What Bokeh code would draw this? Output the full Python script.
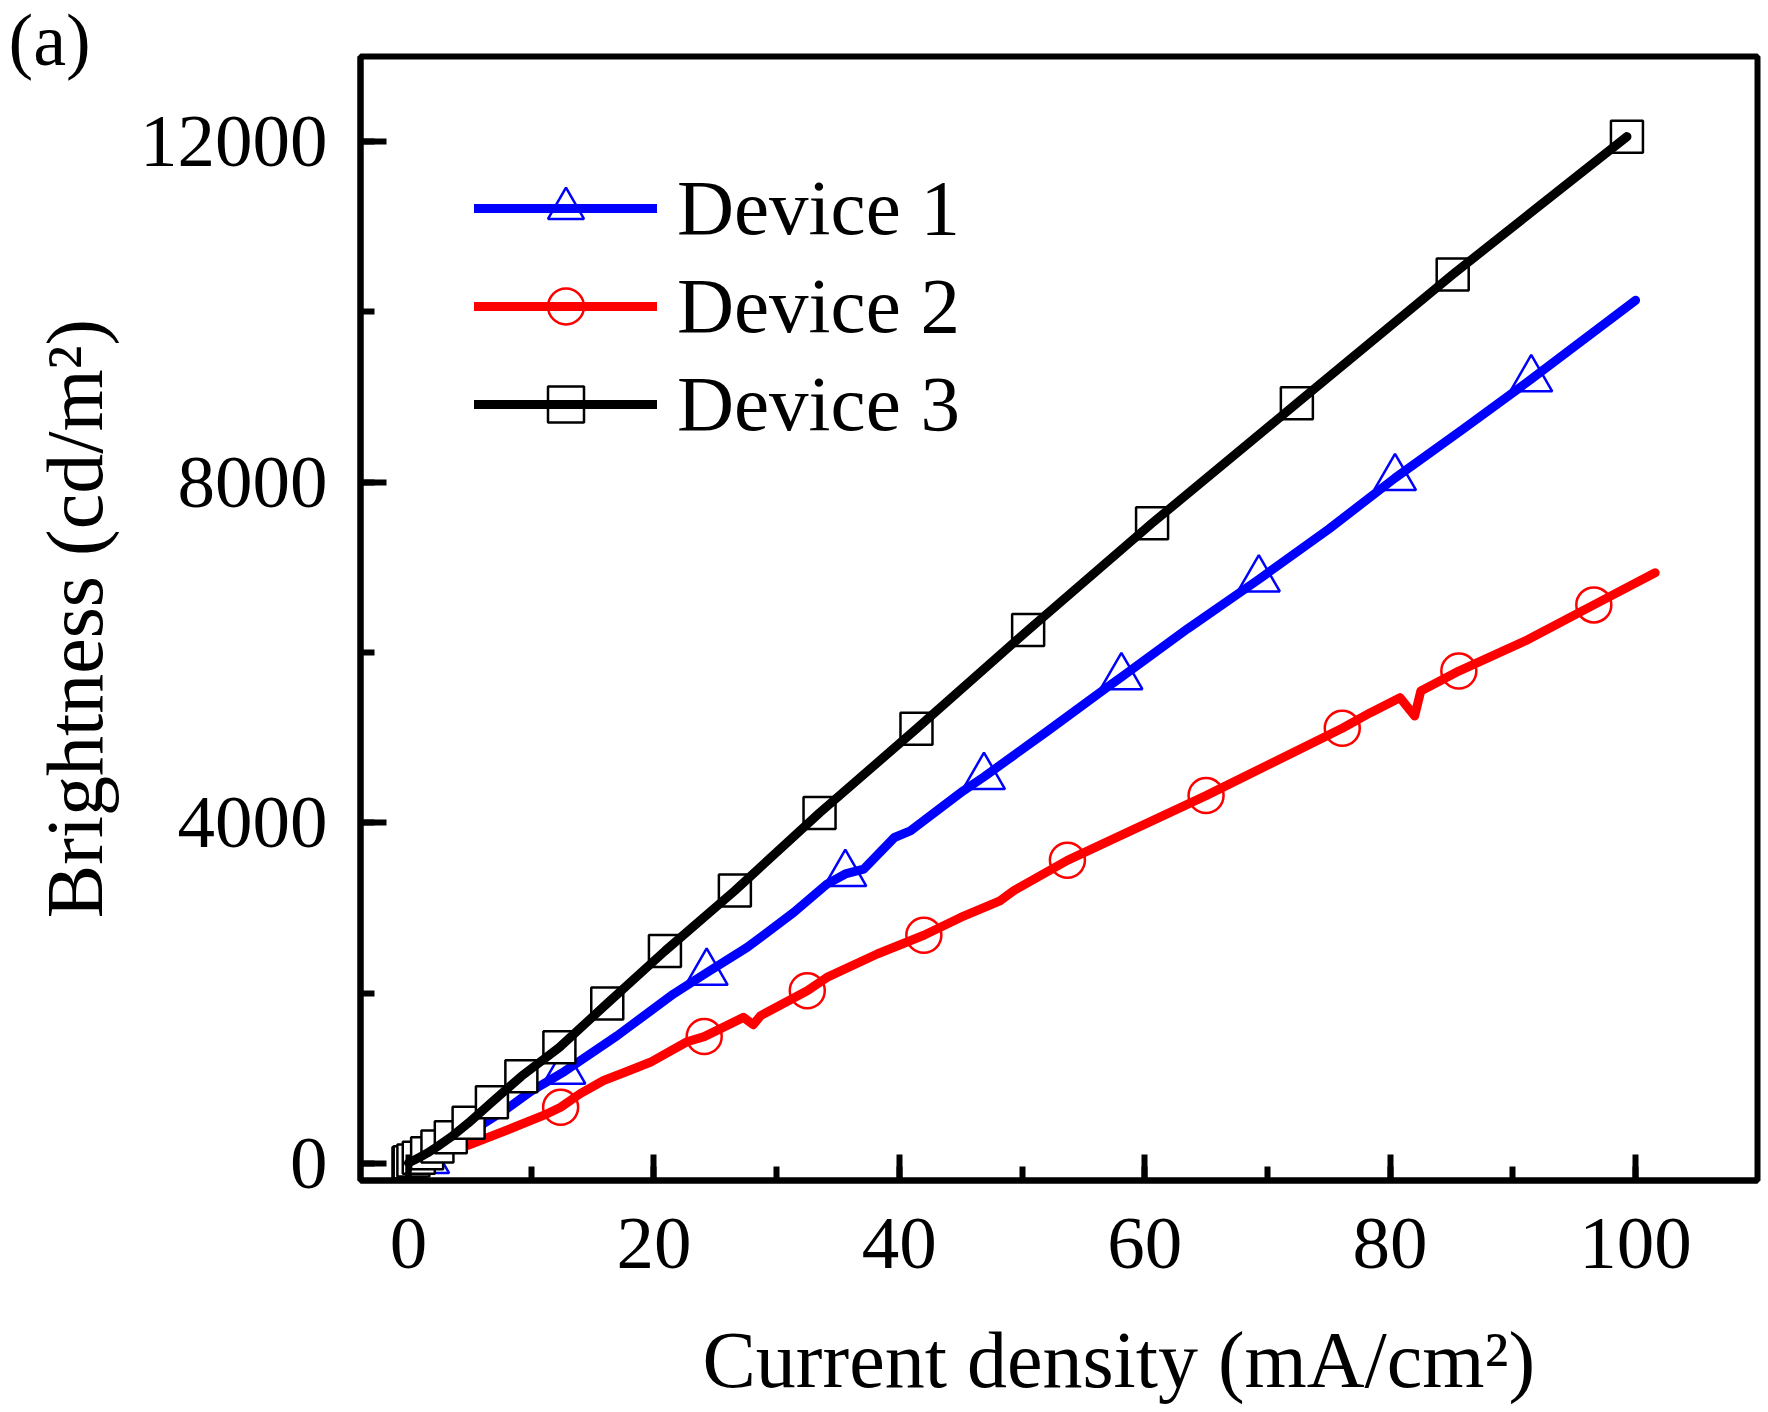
from bokeh.plotting import figure
from bokeh.models import Range1d, SingleIntervalTicker, Legend, LegendItem, Title
from bokeh.embed import file_html
from bokeh.resources import INLINE

FONT = "Liberation Serif"

# ---- data ----
# Device 1 (blue, triangles)
d1_x = [0.3, 1.6, 4.0, 6.1, 8.0, 10.0, 12.7, 17.0, 21.6, 24.3, 27.6, 31.4, 34.1, 35.6, 37.1,
        39.6, 40.9, 45.2, 46.9, 52.0, 56.9, 58.1, 63.5, 69.3, 75.0, 80.4, 86.0, 91.5, 100.0]
d1_y = [0, 30, 250, 466, 640, 850, 1080, 1500, 1991, 2240, 2537, 2948, 3281, 3400, 3457,
        3828, 3906, 4375, 4540, 5070, 5587, 5712, 6280, 6860, 7450, 8050, 8630, 9210, 10137]
d1_mx = [1.6, 12.7, 24.3, 35.6, 46.9, 58.1, 69.3, 80.4, 91.5]
d1_my = [30, 1080, 2240, 3400, 4540, 5712, 6860, 8050, 9210]

# Device 2 (red, circles)
d2_x = [0.3, 2.0, 4.8, 8.0, 11.3, 12.4, 14.0, 15.9, 17.8, 19.7, 22.7, 24.1, 27.3, 28.1, 28.7,
        32.5, 34.1, 38.2, 42.0, 45.0, 48.2, 49.3, 53.7, 65.0, 76.1, 78.4, 80.8, 82.0, 82.5,
        85.6, 91.2, 96.6, 101.6]
d2_y = [0, 90, 211, 390, 583, 660, 820, 974, 1080, 1188, 1430, 1490, 1716, 1630, 1736,
        2029, 2185, 2460, 2680, 2889, 3085, 3202, 3560, 4320, 5111, 5294, 5470, 5255, 5548,
        5783, 6150, 6560, 6936]
d2_mx = [12.4, 24.1, 32.5, 42.0, 53.7, 65.0, 76.1, 85.6, 96.6]
d2_my = [660, 1490, 2029, 2680, 3560, 4320, 5111, 5783, 6560]

# Device 3 (black, squares)
d3_x = [0.0, 0.1, 0.4, 0.84, 1.52, 2.36, 3.45, 4.9, 6.8, 9.2, 12.3, 16.2, 20.9, 26.6, 33.5,
        41.4, 50.5, 60.6, 72.4, 85.1, 99.3]
d3_y = [5, 15, 35, 67, 121, 199, 309, 477, 719, 1024, 1364, 1880, 2495, 3205, 4117,
        5105, 6264, 7519, 8927, 10440, 12059]

series_labels = ["Device 1", "Device 2", "Device 3"]
x_title = "Current density (mA/cm\u00b2)"
y_title = "Brightness (cd/m\u00b2)"
panel_tag = "(a)"

# ---- figure ----
p = figure(width=1766, height=1410, output_backend="svg", toolbar_location=None,
           x_range=Range1d(-3.91, 109.94), y_range=Range1d(-200, 13000),
           min_border_left=360, min_border_right=9, min_border_top=56, min_border_bottom=230)
p.xgrid.visible = False
p.ygrid.visible = False
p.background_fill_color = "white"
p.border_fill_color = "white"
p.outline_line_color = "black"
p.outline_line_width = 6
p.outline_line_alpha = 1.0

# panel tag "(a)" at the top-left corner
p.title.text = panel_tag
p.title.align = "left"
p.title.offset = -352
p.title.standoff = -49
p.title.text_font = FONT
p.title.text_font_size = "74px"
p.title.text_font_style = "normal"
p.title.text_color = "black"

p.xaxis.ticker = SingleIntervalTicker(interval=20, num_minor_ticks=2)
p.yaxis.ticker = SingleIntervalTicker(interval=4000, num_minor_ticks=2)
for ax in (p.xaxis[0], p.yaxis[0]):
    ax.axis_line_width = 6
    ax.axis_line_color = "black"
    ax.major_tick_line_width = 6
    ax.minor_tick_line_width = 6
    ax.major_tick_line_color = "black"
    ax.minor_tick_line_color = "black"
    ax.major_tick_in = 26
    ax.major_tick_out = 0
    ax.minor_tick_in = 14
    ax.minor_tick_out = 0
    ax.major_label_text_font = FONT
    ax.major_label_text_font_size = "75px"
    ax.major_label_text_color = "black"
p.xaxis.major_label_standoff = 38
p.yaxis.major_label_standoff = 33

# thin spacer below the x tick labels so that the x title sits lower
p.xaxis.axis_label = " "
p.xaxis.axis_label_text_font_size = "1px"
p.xaxis.axis_label_standoff = 39

p.yaxis.axis_label = y_title
p.yaxis.axis_label_text_font = FONT
p.yaxis.axis_label_text_font_size = "80px"
p.yaxis.axis_label_text_font_style = "normal"
p.yaxis.axis_label_text_color = "black"
p.yaxis.axis_label_standoff = 18

xt = Title(text=x_title, align="left", offset=342, standoff=0, vertical_align="bottom",
           text_font=FONT, text_font_size="80px", text_font_style="normal", text_color="black")
p.add_layout(xt, "below")

# ---- series ----
m1 = p.scatter(d1_mx, d1_my, marker="triangle", size=42, line_color="#0000ff",
               fill_color="white", line_width=2.5)
l1 = p.line(d1_x, d1_y, line_color="#0000ff", line_width=9, line_join="round", line_cap="round")
m2 = p.scatter(d2_mx, d2_my, marker="circle", size=35, line_color="#ff0000",
               fill_color="white", line_width=2.5)
l2 = p.line(d2_x, d2_y, line_color="#ff0000", line_width=9, line_join="round", line_cap="round")
m3 = p.scatter(d3_x, d3_y, marker="square", size=32, line_color="black",
               fill_color="white", line_width=2.5)
l3 = p.line(d3_x, d3_y, line_color="black", line_width=9, line_join="round", line_cap="round")

legend = Legend(items=[LegendItem(label=series_labels[0], renderers=[m1, l1]),
                       LegendItem(label=series_labels[1], renderers=[m2, l2]),
                       LegendItem(label=series_labels[2], renderers=[m3, l3])],
                location=(114, 731))
legend.label_text_font = FONT
legend.label_text_font_size = "79px"
legend.label_text_color = "black"
legend.glyph_width = 183
legend.glyph_height = 90
legend.label_standoff = 20
legend.spacing = 8
legend.padding = 0
legend.margin = 0
legend.border_line_alpha = 0
legend.background_fill_alpha = 0
p.add_layout(legend)

open("out.html", "w").write(file_html(p, INLINE))
